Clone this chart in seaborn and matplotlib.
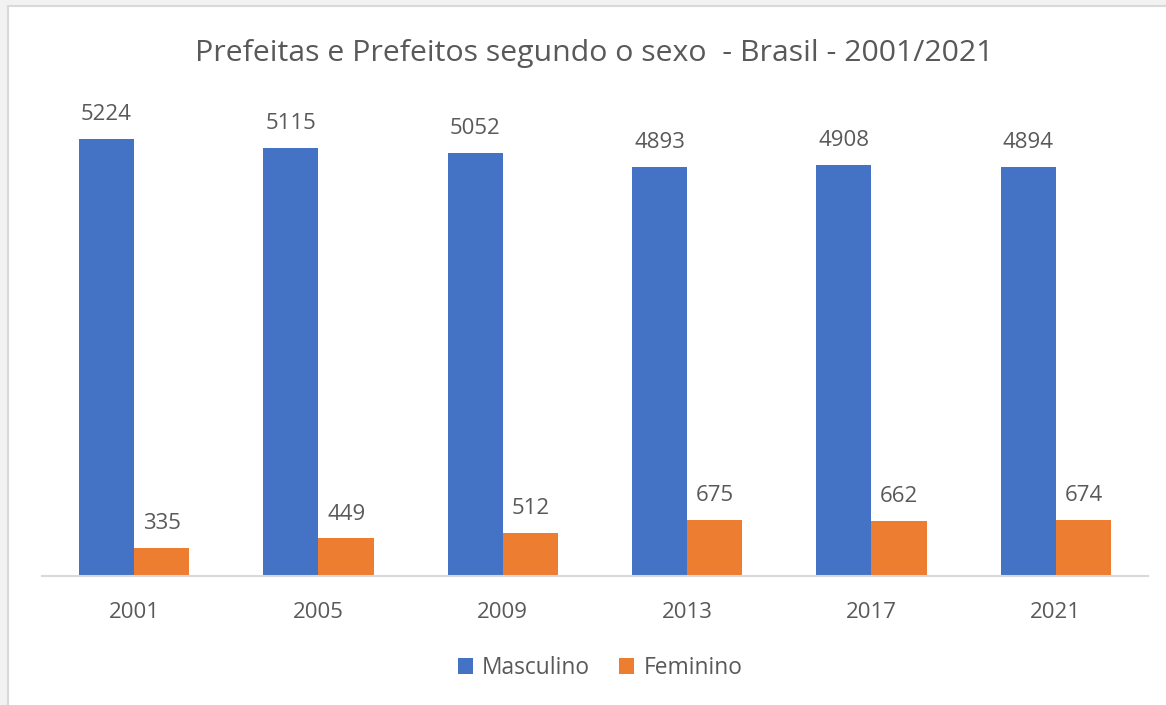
import pandas as pd
import numpy as np
import matplotlib
matplotlib.use('Agg')
import matplotlib.pyplot as plt
import seaborn as sns
from matplotlib.patches import Rectangle, Patch

# dados
anos = ['2001', '2005', '2009', '2013', '2017', '2021']
masculino = [5224, 5115, 5052, 4893, 4908, 4894]
feminino = [335, 449, 512, 675, 662, 674]
series = ['Masculino', 'Feminino']
cores = ['#4472C4', '#ED7D31']
titulo = 'Prefeitas e Prefeitos segundo o sexo  - Brasil - 2001/2021'

df = pd.DataFrame({
    'ano': anos * 2,
    'sexo': ['Masculino'] * len(anos) + ['Feminino'] * len(anos),
    'valor': masculino + feminino,
})

sns.set_style('white')
plt.rcParams['font.family'] = ['Open Sans', 'DejaVu Sans']
cinza = '#595959'

W, H = 1166, 705
fig = plt.figure(figsize=(W / 100, H / 100), dpi=100, facecolor='#f2f2f2')

# moldura branca do grafico
fig.patches.append(Rectangle((8 / W, -0.05), 1.1, 1 - 6 / H + 0.05,
                             transform=fig.transFigure, facecolor='white',
                             edgecolor='#d9d9d9', linewidth=1.5, zorder=-10))

ax = fig.add_axes([42 / W, 129 / H, 1106 / W, 502 / H])
ax.set_facecolor('none')
ax.set_zorder(1)

sns.barplot(
    df, x='ano', y='valor', hue='sexo', order=anos, hue_order=series,
    palette=cores, width=0.6, saturation=1, linewidth=0, ax=ax, legend=False
)

for cont in ax.containers:
    ax.bar_label(cont, padding=10, fontsize=16, color=cinza)

ax.set_ylim(0, 6000)
ax.set(xlabel='', ylabel='', yticks=[])
ax.spines[['left', 'right', 'top']].set_visible(False)
ax.spines['bottom'].set_color('#d9d9d9')
ax.spines['bottom'].set_linewidth(1.5)
ax.tick_params(axis='x', length=0, pad=19, labelsize=16, labelcolor=cinza)

fig.text(594 / W, 1 - 53 / H, titulo, ha='center', va='center',
         fontsize=21.8, color=cinza)

handles = [Patch(facecolor=c, edgecolor='none') for c in cores]
fig.legend(handles, series, loc='center', bbox_to_anchor=(600 / W, 1 - 668 / H),
           ncols=2, frameon=False, fontsize=16.4, labelcolor=cinza,
           handlelength=0.65, handleheight=0.65, handletextpad=0.4,
           columnspacing=1.3)

fig.savefig('out.png', dpi=100, facecolor=fig.get_facecolor())
